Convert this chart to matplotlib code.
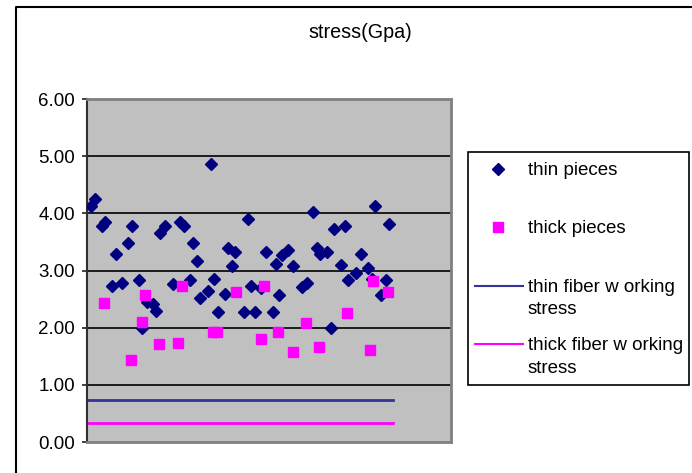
import matplotlib
matplotlib.use('Agg')
import matplotlib.pyplot as plt
import matplotlib.patches as patches
import matplotlib.lines as mlines
import numpy as np

plt.rcParams['font.family'] = ['Liberation Sans', 'DejaVu Sans']

# data
thin_x = [0.71, 1.48, 2.77, 3.41, 4.82, 5.53, 6.63, 7.78, 8.55, 9.96,
          10.60, 11.44, 12.71, 13.23, 14.10, 14.97, 16.57, 17.86, 18.63, 19.78,
          20.42, 21.07, 21.71, 23.19, 23.83, 24.47, 25.24, 26.53, 27.16, 27.88,
          28.45, 30.19, 31.01, 31.54, 32.31, 33.46, 34.37, 35.72, 36.35, 36.99,
          37.45, 38.72, 39.68, 41.30, 42.26, 43.48, 44.19, 44.83, 46.23, 46.89,
          47.52, 48.87, 49.64, 50.28, 51.70, 52.67, 54.02, 54.79, 55.42, 56.58,
          57.48, 58.12]
thin_stress = [4.12, 4.25, 3.78, 3.84, 2.73, 3.29, 2.79, 3.48, 3.78, 2.83,
               1.99, 2.45, 2.41, 2.30, 3.66, 3.78, 2.76, 3.85, 3.78, 2.83,
               3.48, 3.17, 2.52, 2.65, 4.86, 2.86, 2.27, 2.59, 3.39, 3.08,
               3.33, 2.27, 3.90, 2.73, 2.27, 2.69, 3.33, 2.27, 3.11, 2.58,
               3.27, 3.36, 3.08, 2.71, 2.79, 4.03, 3.39, 3.29, 3.33, 1.99,
               3.72, 3.10, 3.78, 2.83, 2.95, 3.29, 3.05, 2.86, 4.12, 2.58,
               2.83, 3.81]

thick_x = [3.27, 8.42, 10.48, 11.12, 13.81, 17.53, 18.19, 24.30, 24.90, 28.55,
           33.46, 34.10, 36.79, 39.57, 42.13, 44.64, 50.09, 54.46, 55.10, 57.87]
thick_stress = [2.44, 1.43, 2.10, 2.57, 1.71, 1.74, 2.73, 1.92, 1.92, 2.63,
                1.80, 2.73, 1.92, 1.58, 2.08, 1.67, 2.26, 1.61, 2.82, 2.63]

work_x = [0, 58.9]
thin_working = 0.735
thick_working = 0.34

yticks = [0, 1, 2, 3, 4, 5, 6]
labels = ['thin pieces', 'thick pieces',
          'thin fiber w orking\nstress', 'thick fiber w orking\nstress']

W, H = 692, 473
fig = plt.figure(figsize=(W / 100, H / 100), dpi=100)
fig.patch.set_facecolor('white')


def fx(px):
    return px / W


def fy(py):
    return 1 - py / H


ax = fig.add_axes([fx(87.3), fy(442), fx(450.7) - fx(87.3), fy(99) - fy(442)])
ax.set_facecolor('#C0C0C0')
ax.set_xlim(0, 70)
ax.set_ylim(0, 6)

for v in yticks[1:]:
    ax.axhline(v, color='black', lw=1.2, zorder=1)

ax.plot(work_x, [thin_working] * 2, color='#333399', lw=2, zorder=2)
ax.plot(work_x, [thick_working] * 2, color='#FF00FF', lw=2, zorder=2)
ax.plot(thin_x, thin_stress, ls='none', marker='D', ms=5.8,
        color='#000080', zorder=3)
ax.plot(thick_x, thick_stress, ls='none', marker='s', ms=7.4,
        color='#FF00FF', zorder=4)

ax.set_xticks([])
ax.set_yticks(yticks)
ax.set_yticklabels(['%.2f' % v for v in yticks], fontsize=13.5)
ax.tick_params(axis='y', direction='out', length=3.5, width=1.2, pad=5.5,
               color='#202020')
for side in ['top', 'right', 'bottom']:
    ax.spines[side].set_color('#808080')
    ax.spines[side].set_linewidth(2)
ax.spines['left'].set_color('#303030')
ax.spines['left'].set_linewidth(1.5)

# title
fig.text(fx(360), fy(33), 'stress(Gpa)', ha='center', va='center', fontsize=14.2)

# outer chart frame: only its left and top edges are inside the picture
fig.lines.append(mlines.Line2D([fx(15.5), fx(15.5), 1.0], [0.0, fy(7.5), fy(7.5)],
                               transform=fig.transFigure, color='black', lw=1.5))

# legend box
fig.patches.append(patches.Rectangle((fx(468), fy(385)), fx(689) - fx(468),
                                     fy(152) - fy(385), transform=fig.transFigure,
                                     facecolor='white', edgecolor='black', lw=1.2))
fig.lines.append(mlines.Line2D([fx(498)], [fy(169)], transform=fig.transFigure,
                               marker='D', ms=5.8, color='#000080', ls='none'))
fig.lines.append(mlines.Line2D([fx(498)], [fy(227.3)], transform=fig.transFigure,
                               marker='s', ms=7.4, color='#FF00FF', ls='none'))
fig.lines.append(mlines.Line2D([fx(475), fx(523)], [fy(285.7)] * 2,
                               transform=fig.transFigure, color='#333399', lw=1.5))
fig.lines.append(mlines.Line2D([fx(475), fx(523)], [fy(343.5)] * 2,
                               transform=fig.transFigure, color='#FF00FF', lw=1.5))

baselines = [[175], [233], [291.7, 314.5], [349.7, 372.5]]
for lab, bls in zip(labels, baselines):
    for line, b in zip(lab.split('\n'), bls):
        fig.text(fx(528), fy(b), line, ha='left', va='baseline', fontsize=13.5)

fig.savefig('out.png', dpi=100)
